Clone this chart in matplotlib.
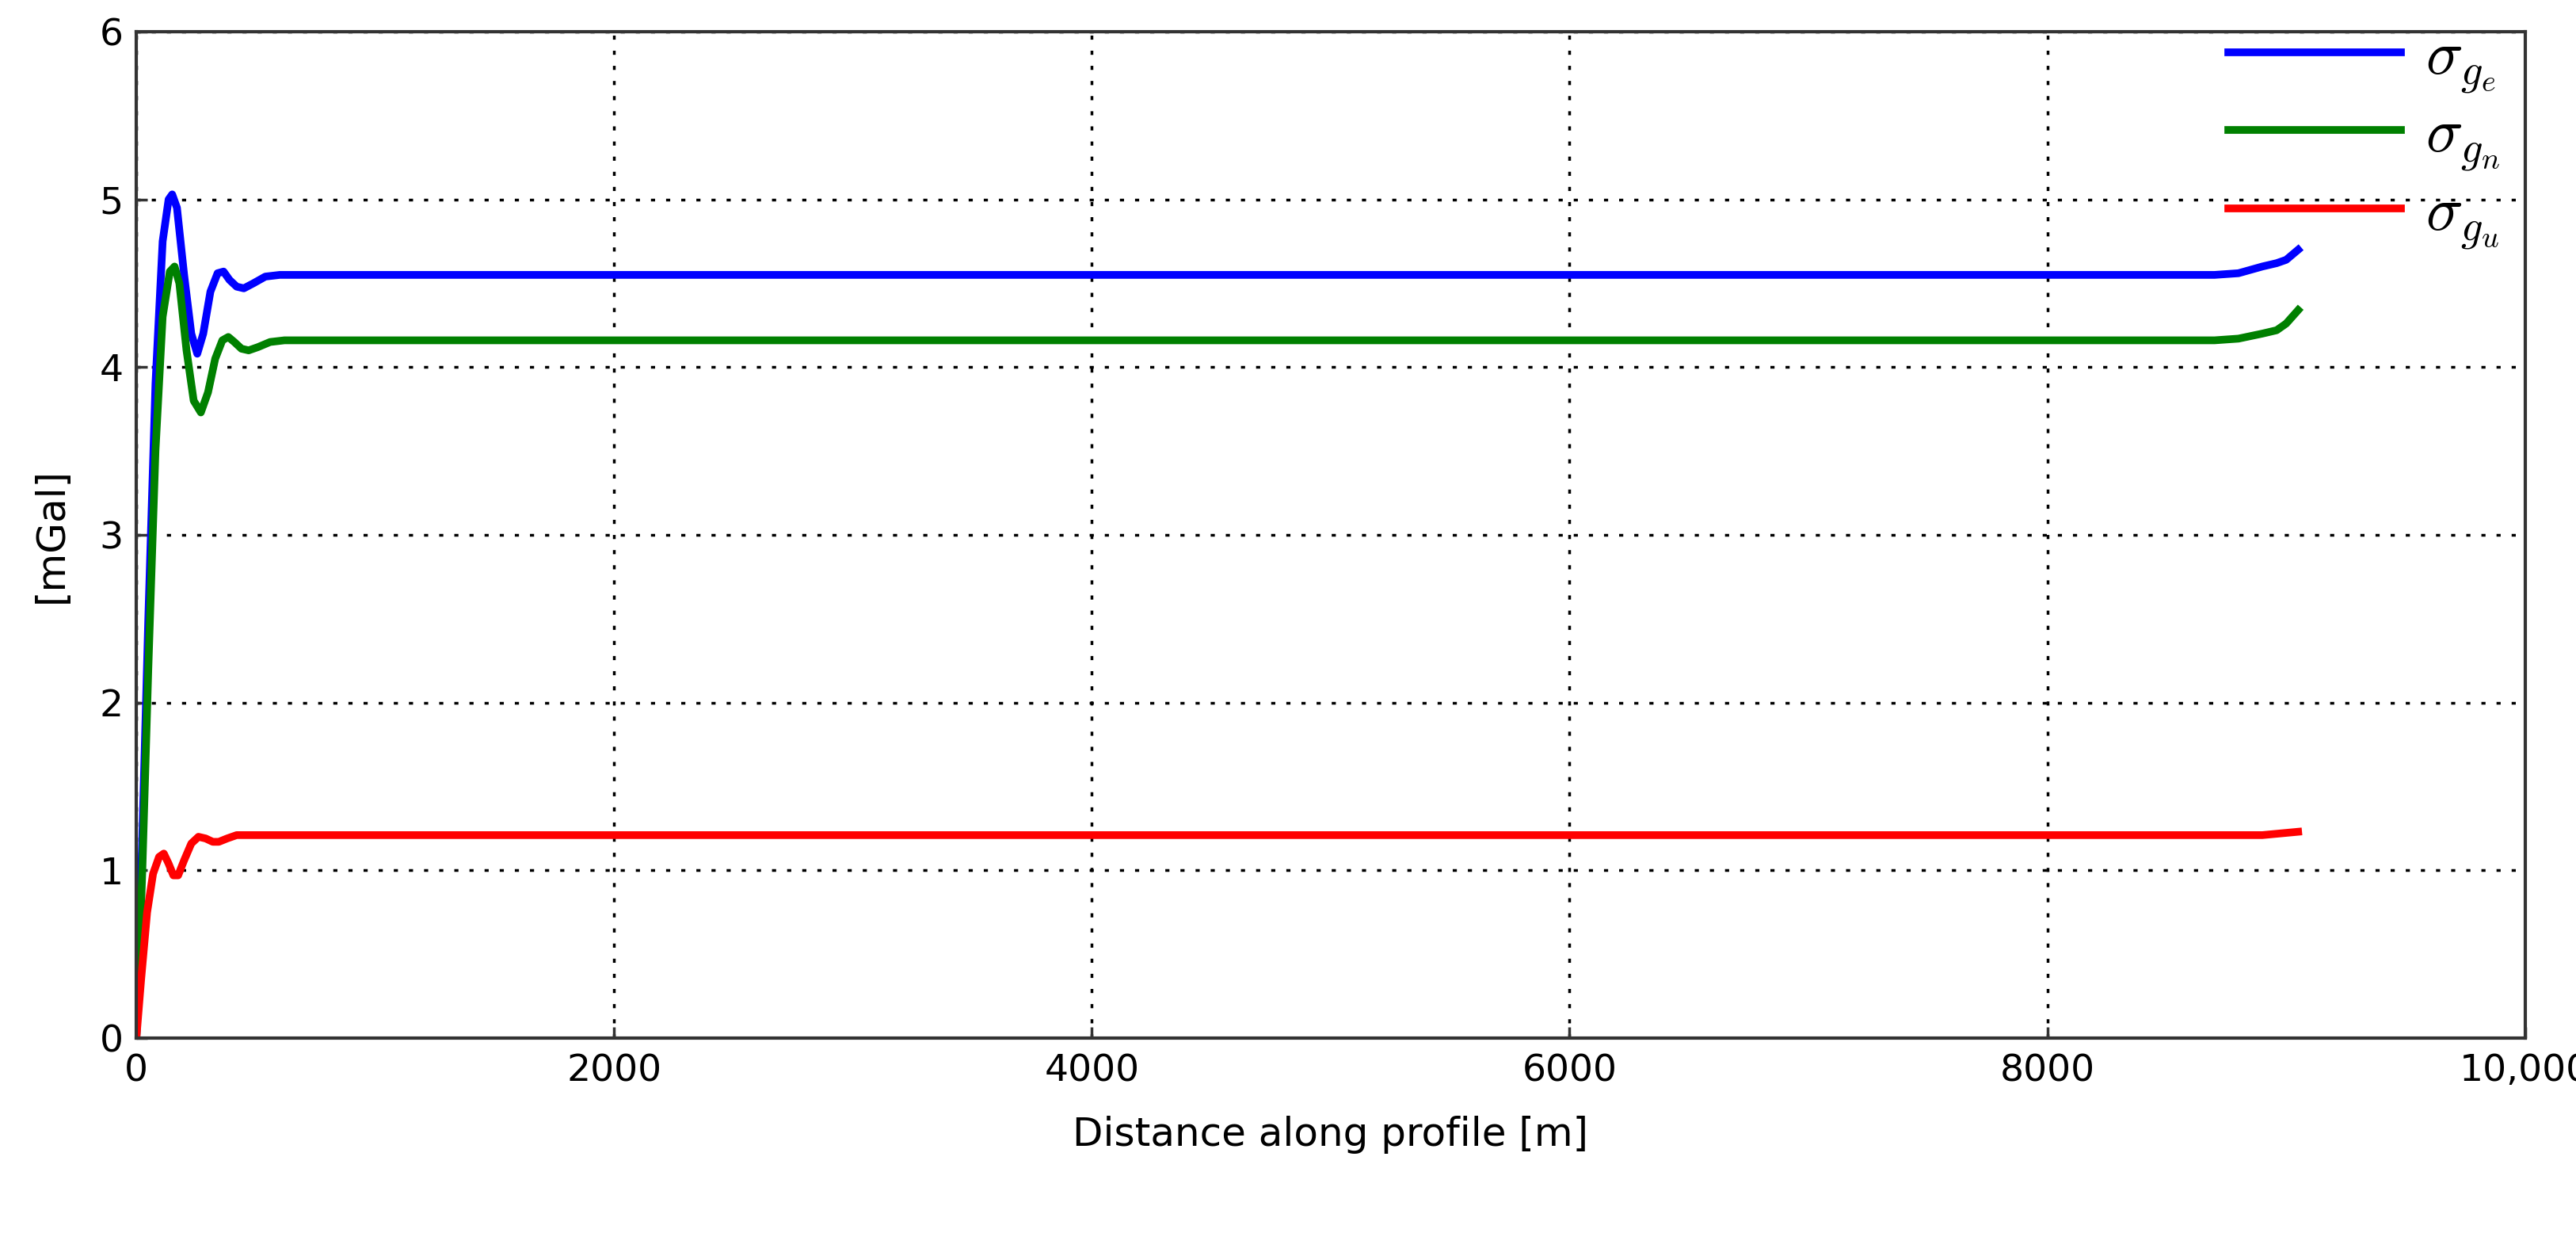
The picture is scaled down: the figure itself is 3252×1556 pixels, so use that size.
import matplotlib
matplotlib.use("Agg")
import matplotlib.pyplot as plt

plt.rcParams["mathtext.fontset"] = "cm"

# values (distance m, mGal)
x_e = [0, 25, 50, 80, 110, 135, 150, 170, 200, 230, 255, 280, 310, 340, 365, 390, 420, 450, 490, 540, 600, 700, 900, 2000, 8000, 8700, 8800, 8900, 8960, 9000, 9050]
ge = [0, 1.2, 2.5, 3.9, 4.75, 5.0, 5.03, 4.95, 4.55, 4.2, 4.08, 4.2, 4.45, 4.56, 4.57, 4.52, 4.48, 4.47, 4.5, 4.54, 4.55, 4.55, 4.55, 4.55, 4.55, 4.55, 4.56, 4.6, 4.62, 4.64, 4.7]
x_n = [0, 25, 50, 80, 110, 140, 160, 180, 210, 240, 270, 300, 330, 360, 385, 410, 440, 470, 510, 560, 620, 700, 900, 2000, 8000, 8700, 8800, 8900, 8960, 9000, 9050]
gn = [0, 1.0, 2.2, 3.5, 4.3, 4.57, 4.6, 4.5, 4.1, 3.8, 3.73, 3.85, 4.05, 4.16, 4.18, 4.15, 4.11, 4.1, 4.12, 4.15, 4.16, 4.16, 4.16, 4.16, 4.16, 4.16, 4.17, 4.2, 4.22, 4.26, 4.34]
x_u = [0, 20, 45, 70, 95, 115, 135, 155, 175, 200, 230, 260, 290, 320, 345, 380, 420, 460, 520, 700, 2000, 8000, 8900, 9050]
gu = [0, 0.35, 0.75, 0.98, 1.08, 1.1, 1.04, 0.97, 0.97, 1.06, 1.16, 1.2, 1.19, 1.17, 1.17, 1.19, 1.21, 1.21, 1.21, 1.21, 1.21, 1.21, 1.21, 1.23]

xticks = [0, 2000, 4000, 6000, 8000, 10000]
xticklabels = ["0", "2000", "4000", "6000", "8000", "10,000"]

fig = plt.figure(figsize=(32.52, 15.56), dpi=100)
ax = fig.add_axes([83/1568, 1-655/778, (1537-83)/1568, (655-20)/778])
ax.plot(x_e, ge, color="#0000ff", lw=7, label=r"$\sigma_{g_e}$")
ax.plot(x_n, gn, color="#008000", lw=7, label=r"$\sigma_{g_n}$")
ax.plot(x_u, gu, color="#ff0000", lw=7, label=r"$\sigma_{g_u}$")
ax.set_xlim(0, 10000)
ax.set_ylim(0, 6)
ax.set_xticks(xticks)
ax.set_xticklabels(xticklabels)
ax.grid(True, color="black", linestyle=(0, (1.5, 4)), lw=2.5)
ax.tick_params(labelsize=34, direction="in", length=10, width=2.5, colors="#333333",
               labelcolor="black")
ax.tick_params(axis="x", pad=14)
ax.tick_params(axis="y", pad=12)
for s in ax.spines.values():
    s.set_linewidth(3)
    s.set_color("#333333")
ax.set_xlabel("Distance along profile [m]", fontsize=36, labelpad=24)
ax.set_ylabel("[mGal]", fontsize=36, labelpad=26)
ax.legend(loc="upper right", fontsize=56, frameon=False, handlelength=2.8,
          borderaxespad=0.0, labelspacing=0.15, handletextpad=0.4,
          bbox_to_anchor=(1.0, 1.03))
fig.savefig("out.png", dpi=100)
